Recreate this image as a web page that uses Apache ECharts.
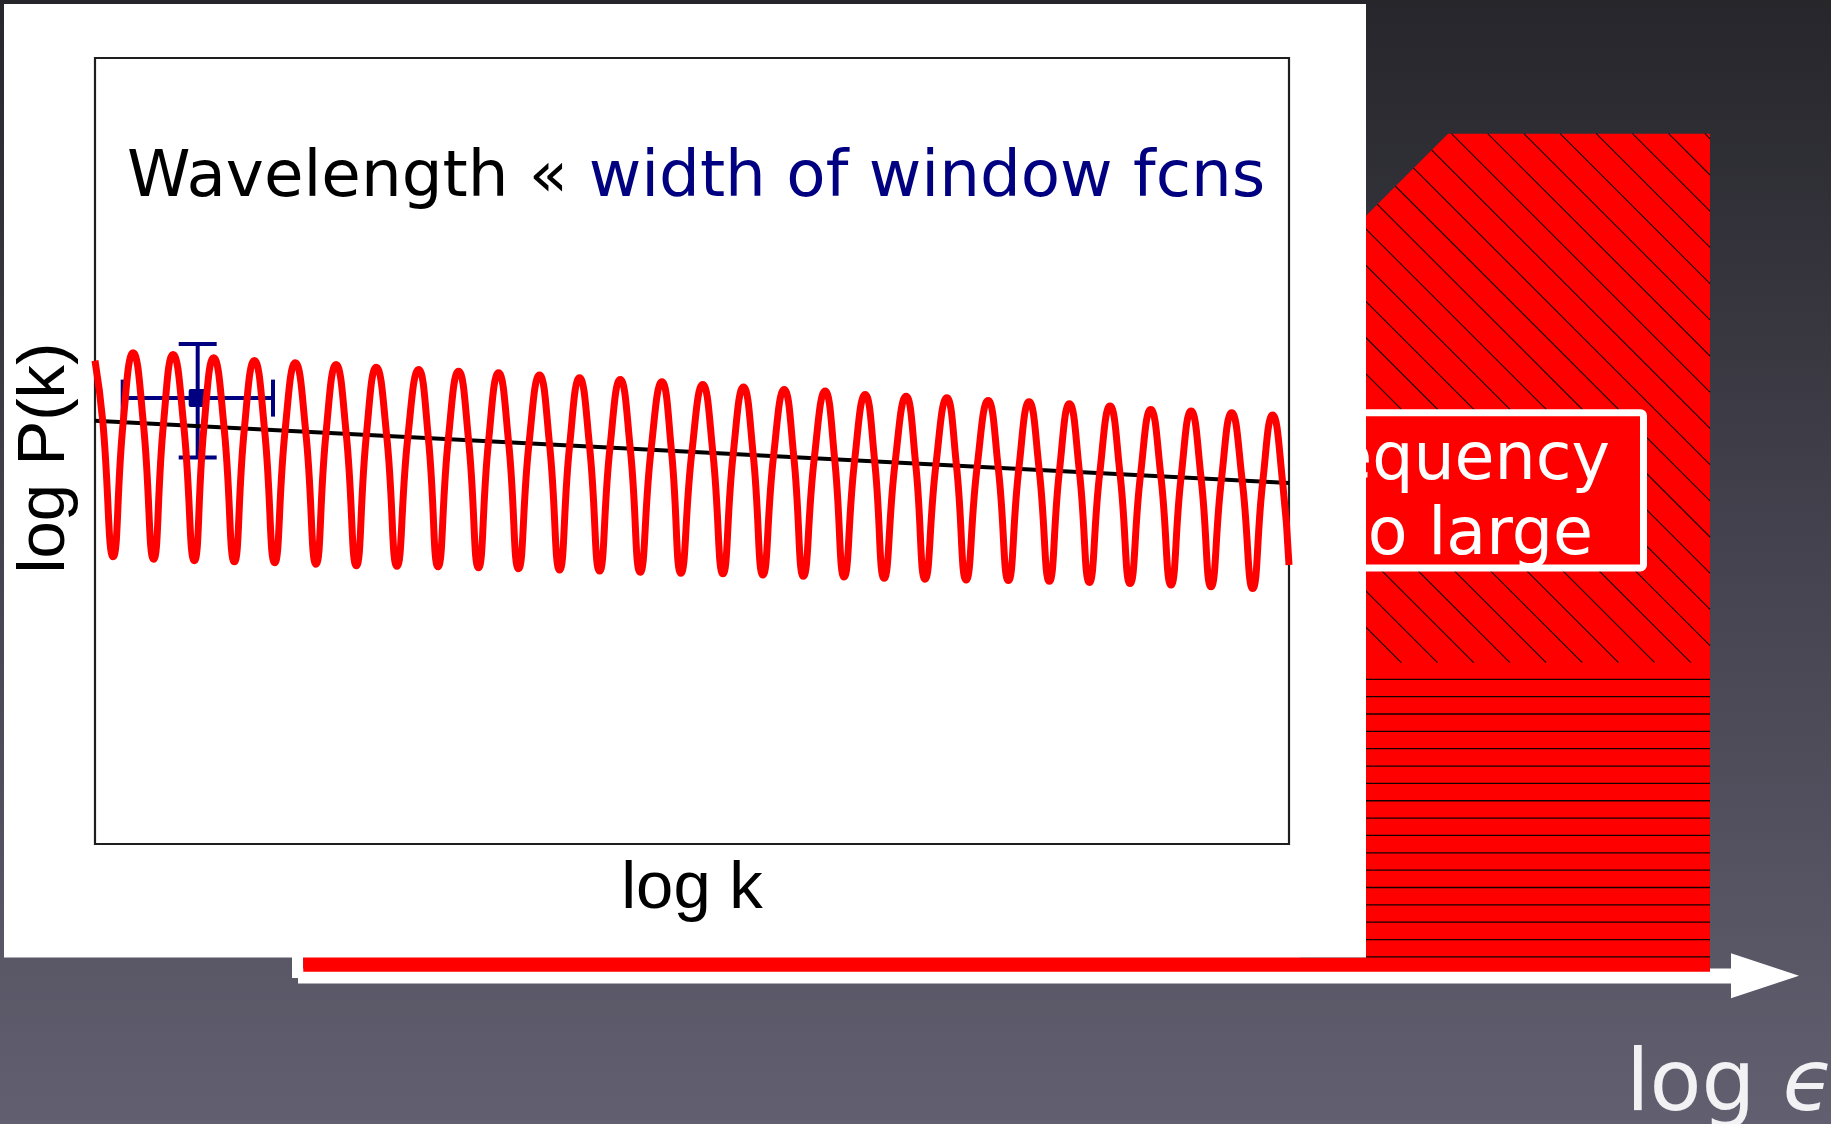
<!DOCTYPE html>
<html>
<head>
<meta charset="utf-8">
<script src="https://cdn.jsdelivr.net/npm/echarts@6/dist/echarts.min.js"></script>
<style>
  html, body { margin: 0; padding: 0; overflow: hidden; background: #3a3945; }
  #chart { width: 1831px; height: 1124px; }
</style>
</head>
<body>
<div id="chart"></div>
<script>
// Oscillating power spectrum: x = log k, y = log P(k), both on a 0–100 scale.
const peaks = [
  [3.19, 62.49], [6.54, 62.28], [9.94, 61.86], [13.35, 61.51], [16.78, 61.22],
  [20.19, 61.01], [23.56, 60.67], [27.10, 60.37], [30.45, 60.16], [33.80, 59.95],
  [37.23, 59.66], [40.58, 59.31], [43.99, 59.10], [47.48, 58.80], [50.90, 58.46],
  [54.31, 58.13], [57.72, 57.82], [61.15, 57.62], [64.50, 57.19], [67.93, 56.98],
  [71.34, 56.77], [74.80, 56.42], [78.23, 56.26], [81.61, 56.01], [85.01, 55.71],
  [88.42, 55.28], [91.80, 55.08], [95.20, 54.86], [98.63, 54.57]
];
const troughs = [
  [1.52, 36.54], [4.91, 36.22], [8.32, 36.03], [11.67, 35.90], [15.05, 35.78],
  [18.51, 35.59], [21.89, 35.39], [25.29, 35.33], [28.73, 35.27], [32.12, 35.14],
  [35.47, 35.01], [38.91, 34.85], [42.26, 34.72], [45.66, 34.57], [49.07, 34.44],
  [52.59, 34.38], [55.94, 34.21], [59.33, 34.06], [62.74, 33.96], [66.09, 33.80],
  [69.52, 33.68], [72.96, 33.58], [76.50, 33.51], [79.93, 33.42], [83.28, 33.27],
  [86.69, 33.14], [90.12, 32.94], [93.47, 32.72], [96.96, 32.51]
];
// where the wiggle crosses the smooth spectrum
const crossings = [
  [0.65, 53.79], [2.36, 53.65], [4.05, 53.52], [5.73, 53.39], [7.43, 53.25],
  [9.13, 53.12], [10.81, 52.98], [12.51, 52.85], [14.20, 52.72], [15.92, 52.58],
  [17.65, 52.44], [19.35, 52.31], [21.04, 52.17], [22.73, 52.04], [24.43, 51.91],
  [26.20, 51.77], [27.92, 51.63], [29.59, 51.50], [31.29, 51.36], [32.96, 51.23],
  [34.64, 51.10], [36.35, 50.96], [38.07, 50.83], [39.75, 50.69], [41.42, 50.56],
  [43.13, 50.42], [44.83, 50.29], [46.57, 50.15], [48.28, 50.02], [49.99, 49.88],
  [51.75, 49.74], [53.45, 49.61], [55.13, 49.47], [56.83, 49.34], [58.53, 49.20],
  [60.24, 49.07], [61.95, 48.93], [63.62, 48.80], [65.30, 48.67], [67.01, 48.53],
  [68.73, 48.40], [70.43, 48.26], [72.15, 48.13], [73.88, 47.99], [75.65, 47.85],
  [77.37, 47.71], [79.08, 47.58], [80.77, 47.44], [82.45, 47.31], [84.15, 47.18],
  [85.85, 47.04], [87.56, 46.91], [89.27, 46.77], [90.96, 46.64], [92.64, 46.50],
  [94.34, 46.37], [96.08, 46.23], [97.80, 46.09], [99.47, 45.96]
];
const curveEnds = [[0, 61.5], [100, 35.5]];
// smooth (no-wiggle) spectrum
const trend = [[0, 53.84], [100, 45.92]];
// one band-power measurement: [low, centre, high]
const binK = [2.32, 8.60, 14.91];
const binP = [49.17, 56.73, 63.60];

const titleLeft = 'Wavelength « ';
const titleRight = 'width of window fcns';
const xName = 'log k';
const yName = 'log P(k)';
const boxLines = ['Frequency', 'too large'];
const axisWord = 'log ';
const axisSymbol = 'ϵ';

const NAVY = '#000080';
const RED = '#ff0000';

const curve = [...curveEnds, ...peaks, ...troughs, ...crossings].sort((a, b) => a[0] - b[0]);

// backdrop: red excluded region with hatching, behind the plot panel
const backdrop = [];
backdrop.push({
  type: 'rect', z: -20, silent: true,
  shape: { x: 0, y: 0, width: 1831, height: 1124 },
  style: { fill: new echarts.graphic.LinearGradient(0, 0, 0, 1, [
    { offset: 0, color: '#26262b' },
    { offset: 0.5, color: '#45434f' },
    { offset: 1, color: '#625f70' }
  ]) }
});
// white axis with arrow
backdrop.push({ type: 'rect', z: -15, shape: { x: 292, y: 900, width: 11, height: 78 }, style: { fill: '#fff' } });
backdrop.push({ type: 'rect', z: -15, shape: { x: 298, y: 968.5, width: 1434, height: 15 }, style: { fill: '#fff' } });
backdrop.push({ type: 'polygon', z: -15, shape: { points: [[1731, 953.3], [1799, 975.8], [1731, 998.3]] }, style: { fill: '#fff' } });
// red region
backdrop.push({
  type: 'polygon', z: -12,
  shape: { points: [[1448, 133.7], [1710, 133.7], [1710, 971.7], [303.3, 971.7], [303.3, 950], [1300, 950], [1300, 281.7]] },
  style: { fill: RED }
});
// diagonal hatching
for (let c = 1317.8 - 17 * 36.2; c <= 1576.3; c += 36.2) {
  const y0 = Math.max(133.7, (1581.7 - c) / 2);
  const y1 = Math.min(662.7, 1710 - c);
  if (y1 > y0) {
    backdrop.push({ type: 'line', z: -11, shape: { x1: c + y0, y1: y0, x2: c + y1, y2: y1 },
      style: { stroke: '#140000', lineWidth: 1.1 } });
  }
}
// horizontal hatching
for (let i = 0; i < 17; i++) {
  const y = 679.3 + i * 17.35;
  backdrop.push({ type: 'line', z: -11, shape: { x1: 1300, y1: y, x2: 1710, y2: y },
    style: { stroke: '#140000', lineWidth: 1.3 } });
}
// label box
backdrop.push({
  type: 'rect', z: -10,
  shape: { x: 1290, y: 412.7, width: 353.5, height: 155.3, r: 3 },
  style: { fill: RED, stroke: '#fff', lineWidth: 7 }
});
backdrop.push({ type: 'text', z: -9, x: 1610, y: 462,
  style: { text: boxLines[0], fill: '#fff', font: '65px "DejaVu Sans"', align: 'right', verticalAlign: 'middle' } });
backdrop.push({ type: 'text', z: -9, x: 1593, y: 537,
  style: { text: boxLines[1], fill: '#fff', font: '65px "DejaVu Sans"', align: 'right', verticalAlign: 'middle' } });
// axis label of the backdrop diagram
backdrop.push({ type: 'text', z: -9, x: 1626, y: 1088,
  style: {
    text: '{a|' + axisWord + '}{b|' + axisSymbol + '}',
    fill: '#f2f2f4',
    verticalAlign: 'middle', align: 'left',
    rich: {
      a: { fontFamily: 'DejaVu Sans', fontSize: 85, fill: '#f2f2f4' },
      b: { fontFamily: 'DejaVu Sans', fontSize: 85, fontStyle: 'italic', fill: '#f2f2f4' }
    }
  } });
// plot panel
backdrop.push({ type: 'rect', z: -2, shape: { x: 4, y: 4, width: 1362, height: 953.5 }, style: { fill: '#fff' } });

const chart = echarts.init(document.getElementById('chart'), null, { renderer: 'canvas' });
chart.setOption({
  animation: false,
  graphic: { elements: backdrop },
  title: {
    text: '{a|' + titleLeft + '}{b|' + titleRight + '}',
    left: 127, top: 147, padding: 0,
    textStyle: {
      fontWeight: 'normal',
      rich: {
        a: { fontFamily: 'DejaVu Sans', fontSize: 64.3, fontWeight: 'normal', color: '#000' },
        b: { fontFamily: 'DejaVu Sans', fontSize: 64.3, fontWeight: 'normal', color: NAVY }
      }
    }
  },
  grid: {
    show: true, left: 95, top: 58, right: 542, bottom: 280,
    backgroundColor: '#fff', borderColor: '#1e1e1e', borderWidth: 2.2
  },
  xAxis: {
    type: 'value', min: 0, max: 100,
    axisLine: { show: false }, axisTick: { show: false }, axisLabel: { show: false }, splitLine: { show: false },
    name: xName, nameLocation: 'middle', nameGap: 12,
    nameTextStyle: { fontFamily: 'Liberation Sans', fontSize: 67, color: '#000' }
  },
  yAxis: {
    type: 'value', min: 0, max: 100,
    axisLine: { show: false }, axisTick: { show: false }, axisLabel: { show: false }, splitLine: { show: false },
    name: yName, nameLocation: 'middle', nameGap: 16,
    nameTextStyle: { fontFamily: 'Liberation Sans', fontSize: 67, color: '#000', padding: [0, 14, 0, 0] }
  },
  series: [
    {
      type: 'line', data: trend, showSymbol: false, silent: true,
      lineStyle: { color: '#000', width: 4 }
    },
    {
      type: 'line', data: curve, showSymbol: false, silent: true, smooth: 0.5,
      lineStyle: { color: RED, width: 7 }
    },
    {
      type: 'custom', silent: true,
      data: [[binK[0], binK[1], binK[2], binP[0], binP[1], binP[2]]],
      encode: { x: [0, 1, 2], y: [3, 4, 5] },
      renderItem: function (params, api) {
        const lo = api.coord([api.value(0), api.value(4)]);
        const c = api.coord([api.value(1), api.value(4)]);
        const hi = api.coord([api.value(2), api.value(4)]);
        const bot = api.coord([api.value(1), api.value(3)]);
        const top = api.coord([api.value(1), api.value(5)]);
        const st = { stroke: NAVY, lineWidth: 4 };
        return {
          type: 'group',
          children: [
            { type: 'line', shape: { x1: lo[0], y1: c[1], x2: hi[0], y2: c[1] }, style: st },
            { type: 'line', shape: { x1: lo[0], y1: c[1] - 18.5, x2: lo[0], y2: c[1] + 18.5 }, style: st },
            { type: 'line', shape: { x1: hi[0], y1: c[1] - 18.5, x2: hi[0], y2: c[1] + 18.5 }, style: st },
            { type: 'line', shape: { x1: c[0], y1: top[1], x2: c[0], y2: bot[1] }, style: st },
            { type: 'line', shape: { x1: c[0] - 19, y1: top[1], x2: c[0] + 19, y2: top[1] }, style: st },
            { type: 'line', shape: { x1: c[0] - 19, y1: bot[1], x2: c[0] + 19, y2: bot[1] }, style: st },
            { type: 'rect', shape: { x: c[0] - 9, y: c[1] - 9, width: 18, height: 18, r: 2 }, style: { fill: NAVY } }
          ]
        };
      }
    }
  ]
});
</script>
</body>
</html>
